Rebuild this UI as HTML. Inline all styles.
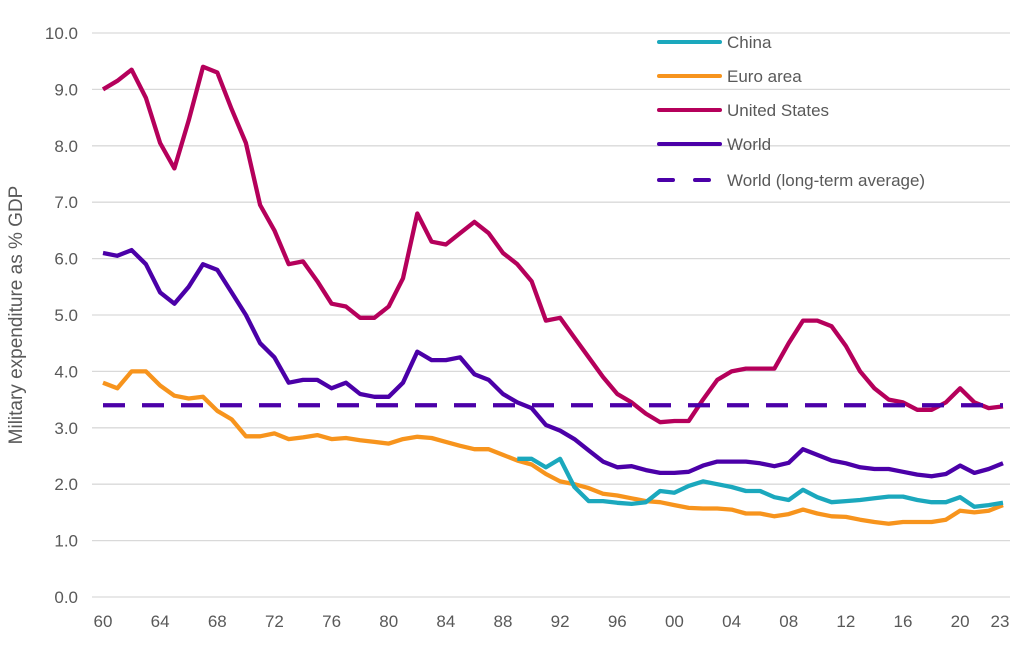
<!DOCTYPE html>
<html><head><meta charset="utf-8"><style>
body{margin:0;background:#fff;font-family:"Liberation Sans",sans-serif}
svg text{font-family:"Liberation Sans",sans-serif;fill:#595959}
</style></head><body>
<svg id="chart" width="1024" height="641" viewBox="0 0 1024 641">
<g id="grid"></g>
<g id="ylab"></g>
<g id="xlab"></g>
<text x="22" y="315" font-size="19" text-anchor="middle" transform="rotate(-90 22 315)">Military expenditure as % GDP</text>
<g id="series"></g>
<g id="legend"></g>
</svg>
<script>
const years=[];for(let y=1960;y<=2023;y++)years.push(y);
const usValues=[9.0,9.15,9.35,8.85,8.05,7.6,8.45,9.4,9.3,8.65,8.05,6.95,6.5,5.9,5.95,5.6,5.2,5.15,4.95,4.95,5.15,5.65,6.8,6.3,6.25,6.45,6.65,6.45,6.1,5.9,5.6,4.9,4.95,4.6,4.25,3.9,3.6,3.45,3.25,3.1,3.12,3.12,3.5,3.85,4.0,4.05,4.05,4.05,4.5,4.9,4.9,4.8,4.45,4.0,3.7,3.5,3.45,3.32,3.32,3.45,3.7,3.45,3.35,3.38];
const worldValues=[6.1,6.05,6.15,5.9,5.4,5.2,5.5,5.9,5.8,5.4,5.0,4.5,4.25,3.8,3.85,3.85,3.7,3.8,3.6,3.55,3.55,3.8,4.35,4.2,4.2,4.25,3.95,3.85,3.6,3.45,3.35,3.05,2.95,2.8,2.6,2.4,2.3,2.32,2.25,2.2,2.2,2.22,2.33,2.4,2.4,2.4,2.37,2.32,2.38,2.62,2.52,2.42,2.37,2.3,2.27,2.27,2.22,2.17,2.14,2.18,2.33,2.2,2.27,2.37];
const euroValues=[3.8,3.7,4.0,4.0,3.75,3.57,3.52,3.55,3.3,3.15,2.85,2.85,2.9,2.8,2.83,2.87,2.8,2.82,2.78,2.75,2.72,2.8,2.84,2.82,2.75,2.68,2.62,2.62,2.52,2.42,2.35,2.18,2.05,2.0,1.93,1.83,1.8,1.75,1.7,1.68,1.63,1.58,1.57,1.57,1.55,1.48,1.48,1.43,1.47,1.55,1.48,1.43,1.42,1.37,1.33,1.3,1.33,1.33,1.33,1.37,1.53,1.5,1.53,1.63];
const chinaStart=1989;
const chinaValues=[2.45,2.45,2.3,2.45,1.95,1.7,1.7,1.67,1.65,1.68,1.88,1.85,1.97,2.05,2.0,1.95,1.88,1.88,1.77,1.72,1.9,1.77,1.68,1.7,1.72,1.75,1.78,1.78,1.72,1.68,1.68,1.77,1.6,1.63,1.67];
const worldAverage=3.4;
const yTicks=[0,1,2,3,4,5,6,7,8,9,10];
const xTickYears=[1960,1964,1968,1972,1976,1980,1984,1988,1992,1996,2000,2004,2008,2012,2016,2020,2023];

const NS="http://www.w3.org/2000/svg";
const X=y=>103+(y-1960)*(900/63);
const Y=v=>597-v*56.4;
function mk(tag,attrs,parent){const e=document.createElementNS(NS,tag);for(const k in attrs)e.setAttribute(k,attrs[k]);parent.appendChild(e);return e;}
const grid=document.getElementById('grid'),ylab=document.getElementById('ylab'),xlab=document.getElementById('xlab'),ser=document.getElementById('series'),leg=document.getElementById('legend');
yTicks.forEach(t=>{
 const l=mk('line',{x1:92,x2:1010,y1:Y(t),y2:Y(t),stroke:'#d9d9d9','stroke-width':1.3},grid);
 
 
 const tx=mk('text',{x:78,y:Y(t)+6,'font-size':17,'text-anchor':'end'},ylab);tx.textContent=t.toFixed(1);
 
 
});
xTickYears.forEach(yr=>{
 let x=X(yr);if(yr===2023)x=1000;
 const tx=mk('text',{x:x,y:627,'font-size':17,'text-anchor':'middle'},xlab);tx.textContent=String(yr%100).padStart(2,'0');
 
 
});
function line(vals,start,color,name,dash){
 const pts=vals.map((v,i)=>X(start+i).toFixed(1)+','+Y(v).toFixed(1)).join(' ');
 const p=mk('polyline',{points:pts,fill:'none',stroke:color,'stroke-width':4.3,'stroke-linejoin':'round'},ser);
 if(dash)p.setAttribute('stroke-dasharray',dash);
 
 
}
line(euroValues,1960,'#f7941d','euro-area-line');
line(chinaValues,chinaStart,'#1ba8bd','china-line');
line(usValues,1960,'#b5005b','united-states-line');
line(worldValues,1960,'#4b00a8','world-line');
line([worldAverage,worldAverage],0,'#4b00a8','world-average-line','22 17');
ser.lastChild.setAttribute('points',X(1960)+','+Y(worldAverage)+' '+X(2023)+','+Y(worldAverage));
const items=[['China','#1ba8bd'],['Euro area','#f7941d'],['United States','#b5005b'],['World','#4b00a8'],['World (long-term average)','#4b00a8']];
const ly=[42,76,110,144,180];
items.forEach((it,i)=>{
 const g=mk('g',{},leg);
 
 
 const l=mk('line',{x1:659,x2:720,y1:ly[i],y2:ly[i],stroke:it[1],'stroke-width':4,'stroke-linecap':'round'},g);
 if(i===4)l.setAttribute('stroke-dasharray','14 22');
 const t=mk('text',{x:727,y:ly[i]+6,'font-size':17},g);t.textContent=it[0];
});
</script>
</body></html>
